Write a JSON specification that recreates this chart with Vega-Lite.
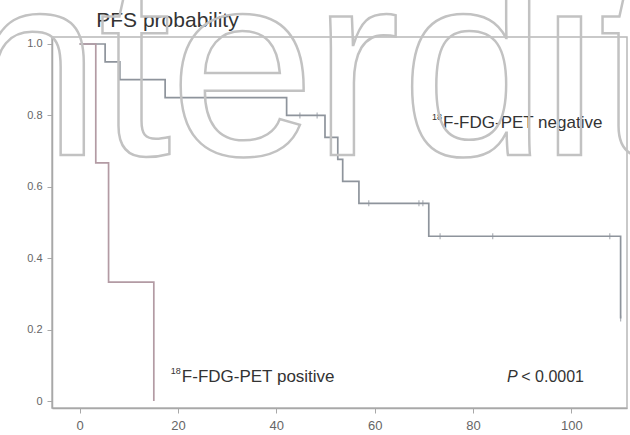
{
  "$schema": "https://vega.github.io/schema/vega-lite/v6.json",
  "width": 575,
  "height": 371,
  "autosize": {"type": "none"},
  "padding": {"left": 52, "top": 37, "right": 3, "bottom": 27},
  "background": "white",
  "config": {
    "view": {"stroke": "#b8b8b8", "strokeWidth": 1.5},
    "font": "Liberation Sans",
    "axis": {
      "grid": false,
      "domainColor": "#a8a8a8",
      "domainWidth": 1.5,
      "tickColor": "#a8a8a8",
      "labelColor": "#666666",
      "labelFont": "Liberation Sans",
      "title": null
    }
  },
  "datasets": {
    "curves": [
      {"group": "negative", "t": 0, "s": 1},
      {"group": "negative", "t": 5.2, "s": 0.95},
      {"group": "negative", "t": 8.2, "s": 0.9},
      {"group": "negative", "t": 17.4, "s": 0.85},
      {"group": "negative", "t": 42.1, "s": 0.8},
      {"group": "negative", "t": 49.9, "s": 0.7385},
      {"group": "negative", "t": 52.5, "s": 0.6769},
      {"group": "negative", "t": 53.5, "s": 0.6154},
      {"group": "negative", "t": 56.8, "s": 0.5538},
      {"group": "negative", "t": 71.0, "s": 0.4615},
      {"group": "negative", "t": 110.0, "s": 0.2308},
      {"group": "positive", "t": 0, "s": 1},
      {"group": "positive", "t": 3.3, "s": 0.667},
      {"group": "positive", "t": 5.9, "s": 0.333},
      {"group": "positive", "t": 15.1, "s": 0}
    ],
    "censored": [
      {"t": 44.8, "s": 0.8},
      {"t": 48.3, "s": 0.8},
      {"t": 58.8, "s": 0.5538},
      {"t": 69.0, "s": 0.5538},
      {"t": 69.8, "s": 0.5538},
      {"t": 73.3, "s": 0.4615},
      {"t": 84.0, "s": 0.4615},
      {"t": 107.8, "s": 0.4615},
      {"t": 110.0, "s": 0.2308}
    ],
    "labels": [
      {"text": "F-FDG-PET negative", "sup": "18", "t": 73.9, "s": 0.779},
      {"text": "F-FDG-PET positive", "sup": "18", "t": 20.8, "s": 0.067}
    ],
    "stamp": [
      {"ch": "i", "t": -37.1, "s": 0.689},
      {"ch": "n", "t": -25.3, "s": 0.689},
      {"ch": "t", "t": 3.86, "s": 0.689},
      {"ch": "e", "t": 18.3, "s": 0.689},
      {"ch": "r", "t": 47.41, "s": 0.689},
      {"ch": "d", "t": 65.38, "s": 0.689},
      {"ch": "i", "t": 93.7, "s": 0.689},
      {"ch": "t", "t": 105.52, "s": 0.689}
    ]
  },
  "layer": [
    {
      "data": {"name": "curves"},
      "mark": {"type": "line", "interpolate": "step-after", "strokeWidth": 1.7},
      "encoding": {
        "x": {
          "field": "t", "type": "quantitative",
          "scale": {"domain": [-5.6, 111.3], "nice": false, "zero": false},
          "axis": {"values": [0, 20, 40, 60, 80, 100], "tickSize": 5, "labelPadding": 6, "labelFontSize": 13}
        },
        "y": {
          "field": "s", "type": "quantitative",
          "scale": {"domain": [-0.0196, 1.0196], "nice": false, "zero": false},
          "axis": {
            "values": [0, 0.2, 0.4, 0.6, 0.8, 1.0],
            "tickSize": 5, "labelPadding": 5, "labelFontSize": 11,
            "labelExpr": "datum.value == 0 ? '0' : format(datum.value, '.1f')"
          }
        },
        "color": {
          "field": "group", "type": "nominal",
          "scale": {"domain": ["negative", "positive"], "range": ["#8e949c", "#b39ba4"]},
          "legend": null
        },
        "order": {"field": "t", "type": "quantitative"}
      }
    },
    {
      "data": {"name": "censored"},
      "mark": {"type": "tick", "orient": "vertical", "size": 6, "thickness": 1.2, "color": "#8e949c"},
      "encoding": {
        "x": {"field": "t", "type": "quantitative"},
        "y": {"field": "s", "type": "quantitative"}
      }
    },
    {
      "data": {"name": "labels"},
      "mark": {"type": "text", "align": "left", "baseline": "middle", "fontSize": 17, "color": "#333333"},
      "encoding": {
        "x": {"field": "t", "type": "quantitative"},
        "y": {"field": "s", "type": "quantitative"},
        "text": {"field": "text"}
      }
    },
    {
      "data": {"name": "labels"},
      "mark": {"type": "text", "align": "right", "baseline": "middle", "fontSize": 9, "dx": -1, "dy": -6, "color": "#333333"},
      "encoding": {
        "x": {"field": "t", "type": "quantitative"},
        "y": {"field": "s", "type": "quantitative"},
        "text": {"field": "sup"}
      }
    },
    {
      "data": {"values": [{"t": 86.9, "s": 0.067, "text": "P"}]},
      "mark": {"type": "text", "align": "left", "baseline": "middle", "fontSize": 16, "fontStyle": "italic", "color": "#333333"},
      "encoding": {
        "x": {"field": "t", "type": "quantitative"},
        "y": {"field": "s", "type": "quantitative"},
        "text": {"field": "text"}
      }
    },
    {
      "data": {"values": [{"t": 89.8, "s": 0.067, "text": "< 0.0001"}]},
      "mark": {"type": "text", "align": "left", "baseline": "middle", "fontSize": 16, "color": "#333333"},
      "encoding": {
        "x": {"field": "t", "type": "quantitative"},
        "y": {"field": "s", "type": "quantitative"},
        "text": {"field": "text"}
      }
    },
    {
      "data": {"values": [{"t": 3.4, "s": 1.065, "text": "PFS probability"}]},
      "mark": {"type": "text", "align": "left", "baseline": "middle", "fontSize": 21, "color": "#333333"},
      "encoding": {
        "x": {"field": "t", "type": "quantitative"},
        "y": {"field": "s", "type": "quantitative"},
        "text": {"field": "text"}
      }
    },
    {
      "data": {"name": "stamp"},
      "mark": {"type": "text", "align": "left", "baseline": "alphabetic", "fontSize": 262, "font": "Liberation Sans", "fillOpacity": 0, "stroke": "#c2c2c2", "strokeWidth": 2.5},
      "encoding": {
        "x": {"field": "t", "type": "quantitative"},
        "y": {"field": "s", "type": "quantitative"},
        "text": {"field": "ch"}
      }
    }
  ]
}
